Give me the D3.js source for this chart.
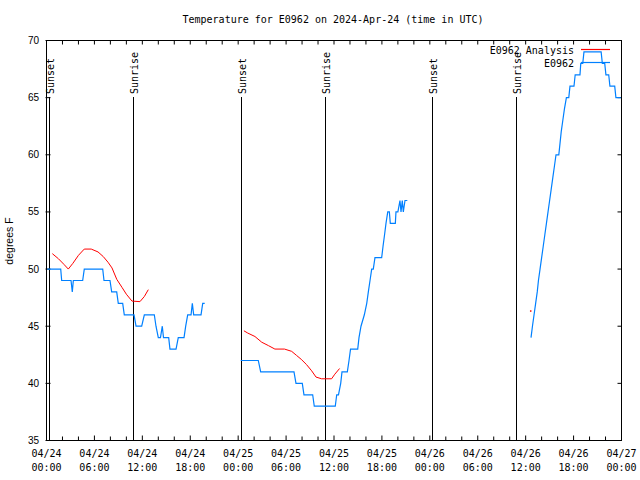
<!DOCTYPE html>
<html><head><meta charset="utf-8">
<script src="https://cdn.jsdelivr.net/npm/d3@7"></script>
<style>
html,body{margin:0;padding:0;background:#fff;}
svg{display:block;}
text{font-family:"DejaVu Sans Mono","Liberation Mono",monospace;font-size:10px;fill:#000;}
.sans{font-family:"Liberation Sans",Arial,sans-serif;}
</style></head>
<body>
<svg id="chart" width="640" height="480"></svg>
<script>
// ---- data (hours since 2024-04-24 00:00 UTC, degrees F) ----
const titleText = "Temperature for E0962 on 2024-Apr-24 (time in UTC)";
const yTicks = [35, 40, 45, 50, 55, 60, 65, 70];
const xTickHours = [0, 6, 12, 18, 24, 30, 36, 42, 48, 54, 60, 66, 72];
const xTickDates = ["04/24","04/24","04/24","04/24","04/25","04/25","04/25","04/25","04/26","04/26","04/26","04/26","04/27"];
const xTickTimes = ["00:00","06:00","12:00","18:00","00:00","06:00","12:00","18:00","00:00","06:00","12:00","18:00","00:00"];
const sunEvents = [
  {h: 0.3, label: "Sunset"}, {h: 10.85, label: "Sunrise"},
  {h: 24.3, label: "Sunset"}, {h: 34.82, label: "Sunrise"},
  {h: 48.33, label: "Sunset"}, {h: 58.8, label: "Sunrise"}
];
const seriesNames = ["E0962 Analysis", "E0962"];

const obsSeg1 = [[0.1,50],[1.78,50],[1.9,49],[3.07,49],[3.23,48],[3.36,49],[4.53,49],[4.73,50],[7.04,50],[7.2,49],[7.95,49],[8.16,48],[8.79,48],[8.99,47],[9.54,47],[9.74,46],[10.96,46],[11.21,45],[11.92,45],[12.25,46],[13.5,46],[13.71,45],[14.0,44],[14.27,44],[14.5,45],[14.65,44],[15.3,44],[15.46,43],[16.22,43],[16.5,44],[17.22,44],[17.43,45],[17.68,46],[18.1,46],[18.26,47],[18.43,46],[19.35,46],[19.56,47],[19.81,47]];
const obsSeg2 = [[24.32,42],[26.52,42],[26.82,41],[30.99,41],[31.24,40],[32.03,40],[32.24,39],[33.33,39],[33.53,38],[36.16,38],[36.34,39],[36.56,39],[36.84,40],[37.0,41],[37.67,41],[37.88,42],[38.07,43],[38.97,43],[39.13,44],[39.38,45],[39.8,46],[40.1,47],[40.3,48],[40.51,49],[40.72,50],[40.92,50],[41.13,51],[41.97,51],[42.14,52],[42.33,53],[42.51,54],[42.73,55],[42.93,55],[43.05,54],[43.68,54],[43.76,55],[44.0,55],[44.26,56],[44.39,55],[44.55,56],[44.68,55],[44.89,56],[45.18,56]];
const obsSeg3 = [[60.67,44],[60.85,45],[61.05,46],[61.25,47],[61.45,48],[61.6,49],[61.8,50],[62.0,51],[62.2,52],[62.4,53],[62.6,54],[62.8,55],[63.0,56],[63.2,57],[63.4,58],[63.6,59],[63.8,60],[64.15,60],[64.3,61],[64.45,62],[64.65,63],[64.85,64],[65.1,65],[65.4,65],[65.55,66],[66.05,66],[66.2,67],[66.8,67],[66.9,68],[67.15,68],[67.3,69],[69.45,69],[69.6,68],[69.9,68],[70.05,67],[70.4,67],[70.55,66],[71.15,66],[71.3,65],[71.9,65]];
const anaSeg1 = [[0.73,51.35],[1.5,50.9],[2.2,50.4],[2.73,50.0],[3.3,50.5],[4.0,51.2],[4.73,51.75],[5.6,51.75],[6.45,51.5],[7.1,51.1],[7.7,50.6],[8.2,50.1],[8.8,49.1],[9.45,48.4],[10.0,47.8],[10.7,47.2],[11.7,47.15],[12.25,47.6],[12.75,48.2]];
const anaSeg2 = [[24.72,44.6],[25.2,44.4],[26.1,44.1],[26.95,43.6],[27.8,43.3],[28.6,43.0],[29.8,43.0],[30.7,42.8],[31.3,42.45],[31.9,42.1],[32.55,41.65],[33.2,41.1],[33.75,40.55],[34.45,40.4],[35.7,40.4],[36.1,40.8],[36.7,41.3]];
const anaSeg3 = [[60.6,46.35]];

const obsColor = "#0080ff", anaColor = "#ff0000";

// ---- drawing ----
const svg = d3.select("#chart");
const x = d3.scaleLinear().domain([0, 72]).range([46.5, 621.5]);
const y = d3.scaleLinear().domain([35, 70]).range([440.5, 40.5]);
const line = d3.line().x(d => x(d[0])).y(d => y(d[1]));

// title
svg.append("text").attr("x", 333).attr("y", 23).attr("text-anchor", "middle").text(titleText);

// frame
svg.append("rect").attr("x", x(0)).attr("y", y(70)).attr("width", x(72) - x(0)).attr("height", y(35) - y(70))
  .attr("fill", "none").attr("stroke", "#000").attr("stroke-width", 1);

// y ticks (left & right, inward)
yTicks.forEach(v => {
  svg.append("line").attr("x1", x(0) - 1).attr("x2", x(0) + 4).attr("y1", y(v)).attr("y2", y(v)).attr("stroke", "#000");
  svg.append("line").attr("x1", x(72) - 4).attr("x2", x(72)).attr("y1", y(v)).attr("y2", y(v)).attr("stroke", "#000");
  svg.append("text").attr("class", "sans").attr("x", 39).attr("y", y(v) + 3.5).attr("text-anchor", "end").text(v);
});
svg.append("text").attr("class", "sans").attr("transform", "translate(13,241) rotate(-90)")
  .attr("text-anchor", "middle").style("font-size", "10.5px").text("degrees F");

// x minor/major ticks every 2h
d3.range(0, 73, 2).forEach(h => {
  const len = (h % 6 === 0) ? 5 : 4;
  svg.append("line").attr("x1", x(h)).attr("x2", x(h)).attr("y1", y(35)).attr("y2", y(35) - len).attr("stroke", "#000");
  svg.append("line").attr("x1", x(h)).attr("x2", x(h)).attr("y1", y(70)).attr("y2", y(70) + 4).attr("stroke", "#000");
});
xTickHours.forEach((h, i) => {
  svg.append("text").attr("x", x(h)).attr("y", 457).attr("text-anchor", "middle").text(xTickDates[i]);
  svg.append("text").attr("x", x(h)).attr("y", 471).attr("text-anchor", "middle").text(xTickTimes[i]);
});

// sunrise / sunset
sunEvents.forEach(e => {
  const xp = Math.round(x(e.h)) + 0.5;
  svg.append("line").attr("x1", xp).attr("x2", xp).attr("y1", 97).attr("y2", y(35)).attr("stroke", "#000");
  svg.append("text").attr("transform", `translate(${xp + 4},94) rotate(-90)`).text(e.label);
});

// series
[obsSeg1, obsSeg2, obsSeg3].forEach(seg => {
  svg.append("path").datum(seg).attr("d", line).attr("fill", "none").attr("stroke", obsColor).attr("stroke-width", 1.2);
});
[anaSeg1, anaSeg2].forEach(seg => {
  svg.append("path").datum(seg).attr("d", line).attr("fill", "none").attr("stroke", anaColor).attr("stroke-width", 1);
});
anaSeg3.forEach(d => {
  svg.append("rect").attr("x", x(d[0]) - 0.5).attr("y", y(d[1]) - 0.5).attr("width", 1.5).attr("height", 1.5).attr("fill", anaColor);
});

// legend
const legend = [{name: seriesNames[0], color: anaColor, yy: 49.5}, {name: seriesNames[1], color: obsColor, yy: 62.5}];
legend.forEach(l => {
  svg.append("text").attr("x", 574).attr("y", l.yy + 4).attr("text-anchor", "end").text(l.name);
  svg.append("line").attr("x1", 581).attr("x2", 610).attr("y1", l.yy).attr("y2", l.yy).attr("stroke", l.color).attr("stroke-width", 1.2);
});
</script>
</body></html>
